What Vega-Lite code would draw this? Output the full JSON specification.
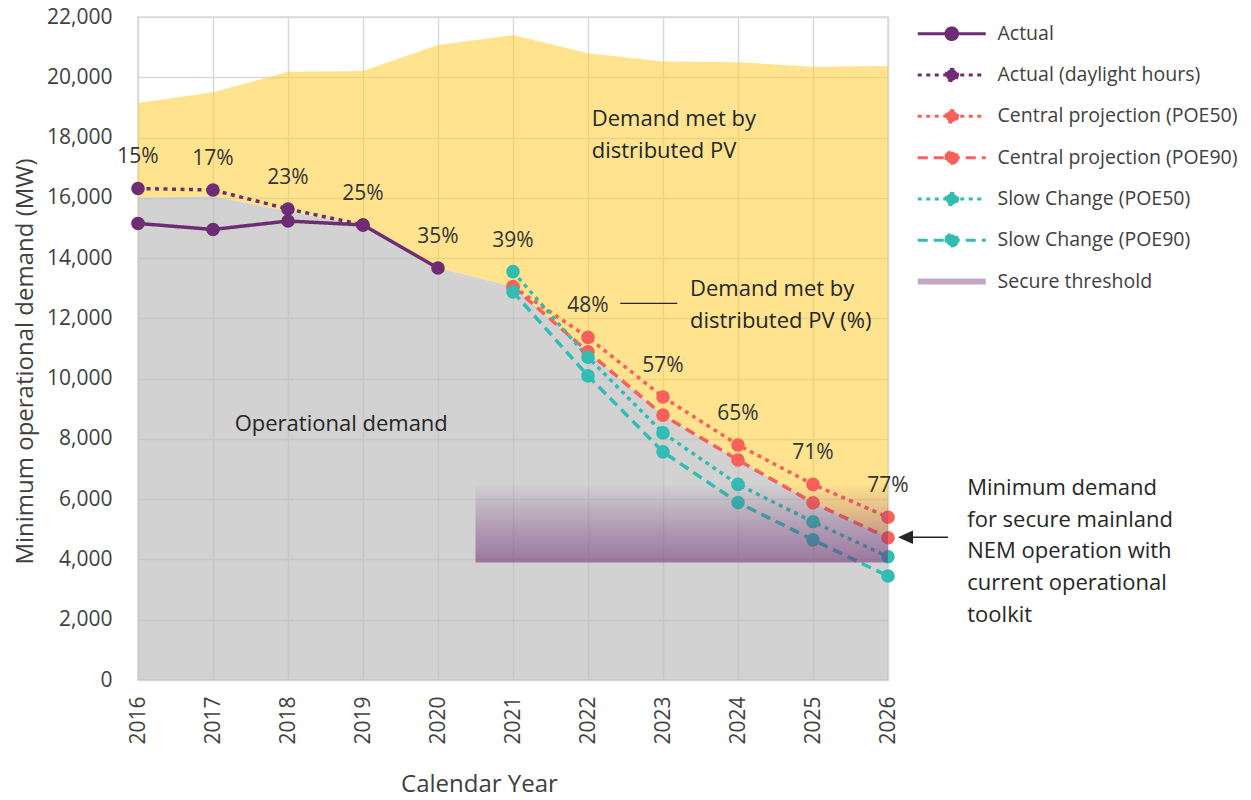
{
  "$schema": "https://vega.github.io/schema/vega-lite/v6.json",
  "width": 750,
  "height": 663,
  "autosize": {"type": "none"},
  "padding": {"left": 138, "top": 17, "right": 363, "bottom": 120},
  "background": "white",
  "config": {
    "font": "Open Sans",
    "view": {"stroke": "#D9D9D9", "strokeWidth": 1.5},
    "axis": {"labelColor": "#404040", "titleColor": "#404040", "gridColor": "#D9D9D9", "gridWidth": 1.5, "domain": false, "ticks": false, "titleFontWeight": "normal"}
  },
  "datasets": {
    "areas": [
      {"year": 2016, "total": 19150, "operational": 16000, "pct": "15%"},
      {"year": 2017, "total": 19500, "operational": 16050, "pct": "17%"},
      {"year": 2018, "total": 20180, "operational": 15550, "pct": "23%"},
      {"year": 2019, "total": 20210, "operational": 15100, "pct": "25%"},
      {"year": 2020, "total": 21070, "operational": 13670, "pct": "35%"},
      {"year": 2021, "total": 21400, "operational": 13050, "pct": "39%"},
      {"year": 2022, "total": 20800, "operational": 10890, "pct": "48%"},
      {"year": 2023, "total": 20520, "operational": 8790, "pct": "57%"},
      {"year": 2024, "total": 20500, "operational": 7300, "pct": "65%"},
      {"year": 2025, "total": 20350, "operational": 5880, "pct": "71%"},
      {"year": 2026, "total": 20370, "operational": 4720, "pct": "77%"}
    ],
    "lines": [
      {"series": "Actual", "year": 2016, "value": 15150},
      {"series": "Actual", "year": 2017, "value": 14950},
      {"series": "Actual", "year": 2018, "value": 15230},
      {"series": "Actual", "year": 2019, "value": 15100},
      {"series": "Actual", "year": 2020, "value": 13670},
      {"series": "Actual (daylight hours)", "year": 2016, "value": 16310},
      {"series": "Actual (daylight hours)", "year": 2017, "value": 16260},
      {"series": "Actual (daylight hours)", "year": 2018, "value": 15630},
      {"series": "Actual (daylight hours)", "year": 2019, "value": 15100},
      {"series": "Central projection (POE50)", "year": 2021, "value": 13050},
      {"series": "Central projection (POE50)", "year": 2022, "value": 11370},
      {"series": "Central projection (POE50)", "year": 2023, "value": 9390},
      {"series": "Central projection (POE50)", "year": 2024, "value": 7800},
      {"series": "Central projection (POE50)", "year": 2025, "value": 6490},
      {"series": "Central projection (POE50)", "year": 2026, "value": 5400},
      {"series": "Central projection (POE90)", "year": 2021, "value": 13050},
      {"series": "Central projection (POE90)", "year": 2022, "value": 10890},
      {"series": "Central projection (POE90)", "year": 2023, "value": 8790},
      {"series": "Central projection (POE90)", "year": 2024, "value": 7300},
      {"series": "Central projection (POE90)", "year": 2025, "value": 5880},
      {"series": "Central projection (POE90)", "year": 2026, "value": 4720},
      {"series": "Slow Change (POE50)", "year": 2021, "value": 13550},
      {"series": "Slow Change (POE50)", "year": 2022, "value": 10710},
      {"series": "Slow Change (POE50)", "year": 2023, "value": 8200},
      {"series": "Slow Change (POE50)", "year": 2024, "value": 6490},
      {"series": "Slow Change (POE50)", "year": 2025, "value": 5250},
      {"series": "Slow Change (POE50)", "year": 2026, "value": 4090},
      {"series": "Slow Change (POE90)", "year": 2021, "value": 12880},
      {"series": "Slow Change (POE90)", "year": 2022, "value": 10090},
      {"series": "Slow Change (POE90)", "year": 2023, "value": 7570},
      {"series": "Slow Change (POE90)", "year": 2024, "value": 5890},
      {"series": "Slow Change (POE90)", "year": 2025, "value": 4650},
      {"series": "Slow Change (POE90)", "year": 2026, "value": 3450}
    ],
    "band": [{"start": 2020.5, "end": 2026, "low": 3900, "high": 6470}]
  },
  "layer": [
    {
      "data": {"name": "areas"},
      "mark": {"type": "area", "color": "#FFCC33", "opacity": 0.55},
      "encoding": {
        "x": {"field": "year", "type": "quantitative", "scale": {"domain": [2016, 2026], "nice": false, "zero": false},
          "axis": {"values": [2016, 2017, 2018, 2019, 2020, 2021, 2022, 2023, 2024, 2025, 2026], "format": "d", "labelAngle": -90, "labelFontSize": 21, "labelPadding": 16, "grid": true, "title": "Calendar Year", "titleFontSize": 24, "titleX": 341, "titleY": 111, "titleBaseline": "alphabetic", "titleAlign": "center"}},
        "y": {"field": "total", "type": "quantitative", "scale": {"domain": [0, 22000], "nice": false},
          "axis": {"values": [0, 2000, 4000, 6000, 8000, 10000, 12000, 14000, 16000, 18000, 20000, 22000], "format": ",d", "labelFontSize": 21, "labelPadding": 26, "grid": true, "title": "Minimum operational demand (MW)", "titleFontSize": 24, "titleX": -106, "titleY": 344, "titleAngle": 270, "titleBaseline": "alphabetic", "titleAlign": "center"}},
        "y2": {"field": "operational"}
      }
    },
    {
      "data": {"name": "areas"},
      "mark": {"type": "area", "color": "#BFBFBF", "opacity": 0.7},
      "encoding": {
        "x": {"field": "year", "type": "quantitative"},
        "y": {"field": "operational", "type": "quantitative"}
      }
    },
    {
      "data": {"name": "lines"},
      "mark": {"type": "line", "strokeWidth": 3.5},
      "encoding": {
        "x": {"field": "year", "type": "quantitative"},
        "y": {"field": "value", "type": "quantitative"},
        "color": {"field": "series", "type": "nominal",
          "scale": {"domain": ["Actual", "Actual (daylight hours)", "Central projection (POE50)", "Central projection (POE90)", "Slow Change (POE50)", "Slow Change (POE90)", "Secure threshold"],
            "range": ["#6E2C74", "#6E2C74", "#F8605A", "#F8605A", "#33BCB1", "#33BCB1", "#C2A8C5"]},
          "legend": {"orient": "none", "legendX": 780, "legendY": 7, "title": null, "direction": "vertical", "padding": 0,
            "labelFontSize": 19.5, "labelColor": "#404040", "labelFont": "Open Sans", "labelLimit": 400,
            "symbolType": "M-3.4,0H3.4", "symbolSize": 400, "symbolStrokeWidth": 3, "symbolOffset": 24, "labelOffset": 36, "rowPadding": 16.3,
            "encode": {"symbols": {"update": {
              "shape": {"signal": "datum.value === 'Secure threshold' ? 'M-3.4,0H3.4' : 'M-3.4,0H3.4M0.58,0A0.58,0.58,0,1,1,-0.58,0A0.58,0.58,0,1,1,0.58,0Z'"},
              "fill": {"signal": "datum.value === 'Secure threshold' ? 'transparent' : scale('color', datum.value)"},
              "strokeWidth": {"signal": "datum.value === 'Secure threshold' ? 6 : 3"}
            }}}}},
        "strokeDash": {"field": "series", "type": "nominal",
          "scale": {"domain": ["Actual", "Actual (daylight hours)", "Central projection (POE50)", "Central projection (POE90)", "Slow Change (POE50)", "Slow Change (POE90)", "Secure threshold"],
            "range": [[1, 0], [4, 4.5], [4, 4.5], [10, 6], [4, 4.5], [10, 6], [1, 0]]},
          "legend": {"orient": "none", "legendX": 780, "legendY": 7, "title": null, "labelLimit": 400}}
      }
    },
    {
      "data": {"name": "lines"},
      "mark": {"type": "point", "filled": true, "size": 185, "opacity": 1},
      "encoding": {
        "x": {"field": "year", "type": "quantitative"},
        "y": {"field": "value", "type": "quantitative"},
        "color": {"field": "series", "type": "nominal"}
      }
    },
    {
      "data": {"name": "band"},
      "mark": {"type": "rect", "fill": {"gradient": "linear", "x1": 0, "y1": 0, "x2": 0, "y2": 1,
        "stops": [{"offset": 0, "color": "rgba(110,44,116,0.02)"}, {"offset": 0.5, "color": "rgba(110,44,116,0.3)"}, {"offset": 1, "color": "rgba(110,44,116,0.55)"}]}},
      "encoding": {
        "x": {"field": "start", "type": "quantitative"},
        "x2": {"field": "end"},
        "y": {"field": "high", "type": "quantitative"},
        "y2": {"field": "low"}
      }
    },
    {
      "data": {"name": "lines"},
      "transform": [
        {"aggregate": [{"op": "max", "field": "value", "as": "top"}], "groupby": ["year"]},
        {"lookup": "year", "from": {"data": {"name": "areas"}, "key": "year", "fields": ["pct"]}}
      ],
      "mark": {"type": "text", "dy": -31, "fontSize": 21, "color": "#333333"},
      "encoding": {
        "x": {"field": "year", "type": "quantitative"},
        "y": {"field": "top", "type": "quantitative"},
        "text": {"field": "pct"}
      }
    },
    {
      "data": {"values": [{}]},
      "mark": {"type": "text", "text": ["Demand met by", "distributed PV"], "align": "left", "baseline": "alphabetic", "fontSize": 22, "lineHeight": 32, "color": "#262626"},
      "encoding": {"x": {"datum": 2022.05, "type": "quantitative"}, "y": {"datum": 18380, "type": "quantitative"}}
    },
    {
      "data": {"values": [{}]},
      "mark": {"type": "text", "text": "Operational demand", "align": "center", "baseline": "alphabetic", "fontSize": 22, "color": "#262626"},
      "encoding": {"x": {"datum": 2018.71, "type": "quantitative"}, "y": {"datum": 8263, "type": "quantitative"}}
    },
    {
      "data": {"values": [{}]},
      "mark": {"type": "text", "text": ["Demand met by", "distributed PV (%)"], "align": "left", "baseline": "alphabetic", "fontSize": 22, "lineHeight": 32, "color": "#262626"},
      "encoding": {"x": {"datum": 2023.36, "type": "quantitative"}, "y": {"datum": 12742, "type": "quantitative"}}
    },
    {
      "data": {"values": [{}]},
      "mark": {"type": "rule", "color": "#262626", "strokeWidth": 1.2},
      "encoding": {"x": {"datum": 2022.43, "type": "quantitative"}, "x2": {"datum": 2023.19}, "y": {"datum": 12500, "type": "quantitative"}}
    },
    {
      "data": {"values": [{}]},
      "mark": {"type": "rule", "color": "#262626", "strokeWidth": 1.5},
      "encoding": {"x": {"datum": 2026.3, "type": "quantitative"}, "x2": {"datum": 2026.8}, "y": {"datum": 4735, "type": "quantitative"}}
    },
    {
      "data": {"values": [{}]},
      "mark": {"type": "point", "shape": "M-1,0L1,-0.9L1,0.9Z", "filled": true, "size": 225, "color": "#262626", "opacity": 1},
      "encoding": {"x": {"datum": 2026.233, "type": "quantitative"}, "y": {"datum": 4735, "type": "quantitative"}}
    },
    {
      "data": {"values": [{}]},
      "mark": {"type": "text", "text": ["Minimum demand", "for secure mainland", "NEM operation with", "current operational", "toolkit"], "align": "left", "baseline": "alphabetic", "fontSize": 22, "lineHeight": 31.7, "color": "#262626"},
      "encoding": {"x": {"datum": 2027.057, "type": "quantitative"}, "y": {"datum": 6139, "type": "quantitative"}}
    }
  ]
}
